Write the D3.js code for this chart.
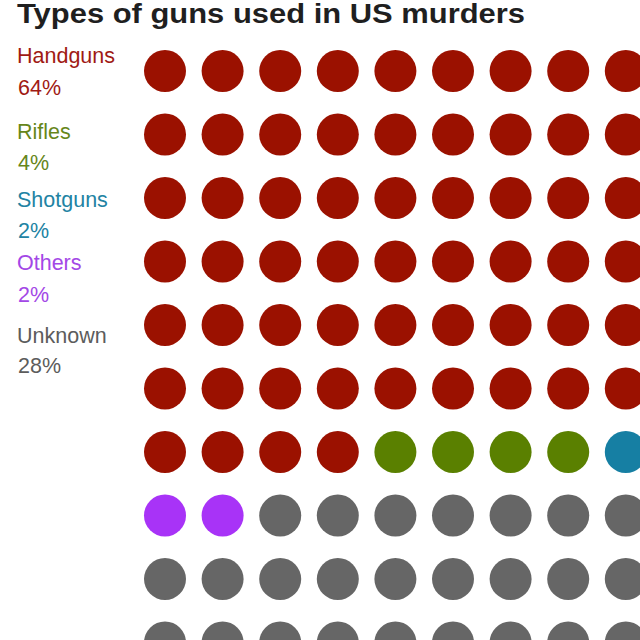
<!DOCTYPE html>
<html>
<head>
<meta charset="utf-8">
<script src="https://cdn.jsdelivr.net/npm/d3@7"></script>
<style>
  html, body { margin: 0; padding: 0; background: #fff; overflow: hidden; }
  svg { display: block; font-family: "Liberation Sans", Arial, Helvetica, sans-serif; }
</style>
</head>
<body>
<svg id="chart" width="640" height="640"></svg>
<script>
// gun types, share of US murders (percent, one dot each)
const categories = ["Handguns", "Rifles", "Shotguns", "Others", "Unknown"];
const shares = [64, 4, 2, 2, 28];
const shareLabels = ["64%", "4%", "2%", "2%", "28%"];
const dotColors = ["#9b1100", "#5a8000", "#167fa3", "#a833f7", "#666666"];
const textColors = ["#a01a14", "#66861a", "#2283a3", "#a348e6", "#5c5c5c"];

const svg = d3.select("#chart");
const nCols = 10, nRows = 10;

// expand shares into one dot per percent
const dots = [];
categories.forEach((c, i) => {
    for (let k = 0; k < shares[i]; k++) dots.push({ cat: i });
});
dots.forEach((d, i) => { d.col = i % nCols; d.row = Math.floor(i / nCols); });

const x = d3.scaleLinear().domain([0, nCols - 1]).range([165, 165 + 9 * 57.6]);
const y = d3.scaleLinear().domain([0, nRows - 1]).range([71, 71 + 9 * 63.5]);

// title (top edge is cropped in the original too)
svg.append("text")
    .attr("x", 17)
    .attr("y", 23)
    .attr("font-size", 28.5)
    .attr("font-weight", "bold")
    .attr("fill", "#1f1f1f")
    .attr("textLength", 508)
    .attr("lengthAdjust", "spacingAndGlyphs")
    .text("Types of guns used in US murders");

// legend
const labelY = [63, 139, 207, 270, 343];
const pctY = [95, 170, 238, 302, 373];
const legend = svg.append("g").attr("class", "legend");
categories.forEach((c, i) => {
    legend.append("text")
        .attr("x", 17).attr("y", labelY[i])
        .attr("font-size", 21.5)
        .attr("fill", textColors[i])
        .text(c);
    legend.append("text")
        .attr("x", 18).attr("y", pctY[i])
        .attr("font-size", 21.5)
        .attr("fill", textColors[i])
        .text(shareLabels[i]);
});

// dots
svg.append("g").attr("class", "dots")
    .selectAll("circle")
    .data(dots)
    .enter()
    .append("circle")
    .attr("cx", d => x(d.col))
    .attr("cy", d => y(d.row))
    .attr("r", 21)
    .attr("fill", d => dotColors[d.cat]);
</script>
</body>
</html>
